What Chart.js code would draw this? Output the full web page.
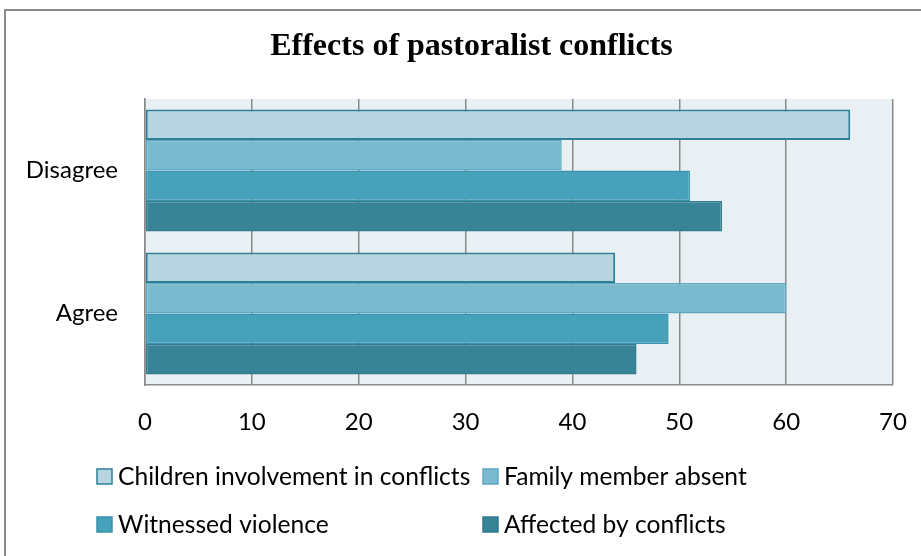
<!DOCTYPE html>
<html><head><meta charset="utf-8">
<script src="https://cdn.jsdelivr.net/npm/chart.js@4/dist/chart.umd.min.js"></script>
<style>
html,body{margin:0;padding:0;background:#fff;overflow:hidden}
#frame{position:absolute;left:4px;top:9px;width:1000px;height:1000px;border-left:2px solid #8c8c8c;border-top:2px solid #8c8c8c;box-sizing:border-box}
#wrap{position:absolute;left:0;top:0;width:921px;height:556px}
</style></head><body>
<div id="frame"></div>
<div id="wrap"><canvas id="c" width="921" height="556"></canvas></div>
<script>
const categories = ['Disagree', 'Agree'];
const seriesNames = ['Children involvement in conflicts', 'Family member absent', 'Witnessed violence', 'Affected by conflicts'];
const childrenInvolvement = [66, 44];
const familyMemberAbsent = [39, 60];
const witnessedViolence = [51, 49];
const affectedByConflicts = [54, 46];
const xTickValues = [0, 10, 20, 30, 40, 50, 60, 70];
const titleText = 'Effects of pastoralist conflicts';

const fills = ['#b7d5e0', '#7bb9cf', '#46a1bb', '#378497'];
const borders = ['#2f7f96', '#5fa8c1', '#3a93ad', '#327b8e'];
const seriesValues = [childrenInvolvement, familyMemberAbsent, witnessedViolence, affectedByConflicts];

const LABEL_FONT = 'Lato';

const plotBg = {
  id: 'plotBg',
  beforeDraw(chart) {
    const {ctx, chartArea: a} = chart;
    ctx.save();
    ctx.fillStyle = '#e8f0f4';
    ctx.fillRect(a.left, a.top, a.right - a.left, a.bottom - a.top);
    ctx.restore();
  }
};

const customLegend = {
  id: 'customLegend',
  afterDraw(chart) {
    const ctx = chart.ctx;
    const pos = [[97, 477], [483, 477], [97, 525], [483, 525]];
    ctx.save();
    ctx.font = '24.6px ' + LABEL_FONT;
    ctx.textBaseline = 'middle';
    ctx.textAlign = 'left';
    chart.data.datasets.forEach((ds, i) => {
      const [x, y] = pos[i];
      ctx.fillStyle = ds.backgroundColor;
      ctx.fillRect(x, y - 8, 15, 15);
      ctx.strokeStyle = ds.borderColor;
      ctx.lineWidth = 1.5;
      ctx.strokeRect(x, y - 8, 15, 15);
      ctx.fillStyle = '#000';
      ctx.fillText(ds.label, x + 21, y);
    });
    ctx.restore();
  }
};

new Chart(document.getElementById('c'), {
  type: 'bar',
  data: {
    labels: categories,
    datasets: seriesNames.map((name, i) => ({
      label: name,
      data: seriesValues[i],
      backgroundColor: fills[i],
      borderColor: borders[i],
      borderWidth: i === 0 ? 2 : 1.5,
      borderSkipped: false,
      barPercentage: 1,
      categoryPercentage: 0.853
    }))
  },
  options: {
    indexAxis: 'y',
    responsive: false,
    animation: false,
    layout: {padding: {left: 22, right: 0, top: 0, bottom: 121}},
    plugins: {
      legend: {display: false},
      tooltip: {enabled: false},
      title: {
        display: true,
        text: titleText,
        color: '#000',
        font: {family: 'Liberation Serif', size: 32, weight: 'bold'},
        padding: {top: 28, bottom: 32.6}
      }
    },
    scales: {
      x: {
        min: 0, max: 70,
        afterBuildTicks(scale) { scale.ticks = xTickValues.map(v => ({value: v})); },
        afterFit(scale) { scale.height = 50; scale.paddingLeft = 0; scale.paddingRight = 28; },
        ticks: {color: '#000', font: {family: LABEL_FONT, size: 24}, padding: 23},
        grid: {color: '#8a8a8a', lineWidth: 1.5, drawTicks: false},
        border: {display: true, color: '#8a8a8a', width: 1.5}
      },
      y: {
        afterFit(scale) { scale.width = 123; scale.paddingTop = 0; scale.paddingBottom = 0; },
        ticks: {color: '#000', font: {family: LABEL_FONT, size: 24}, padding: 27},
        grid: {display: false, drawTicks: false},
        border: {display: true, color: '#8a8a8a', width: 1.5}
      }
    }
  },
  plugins: [plotBg, customLegend]
});
</script>
</body></html>
